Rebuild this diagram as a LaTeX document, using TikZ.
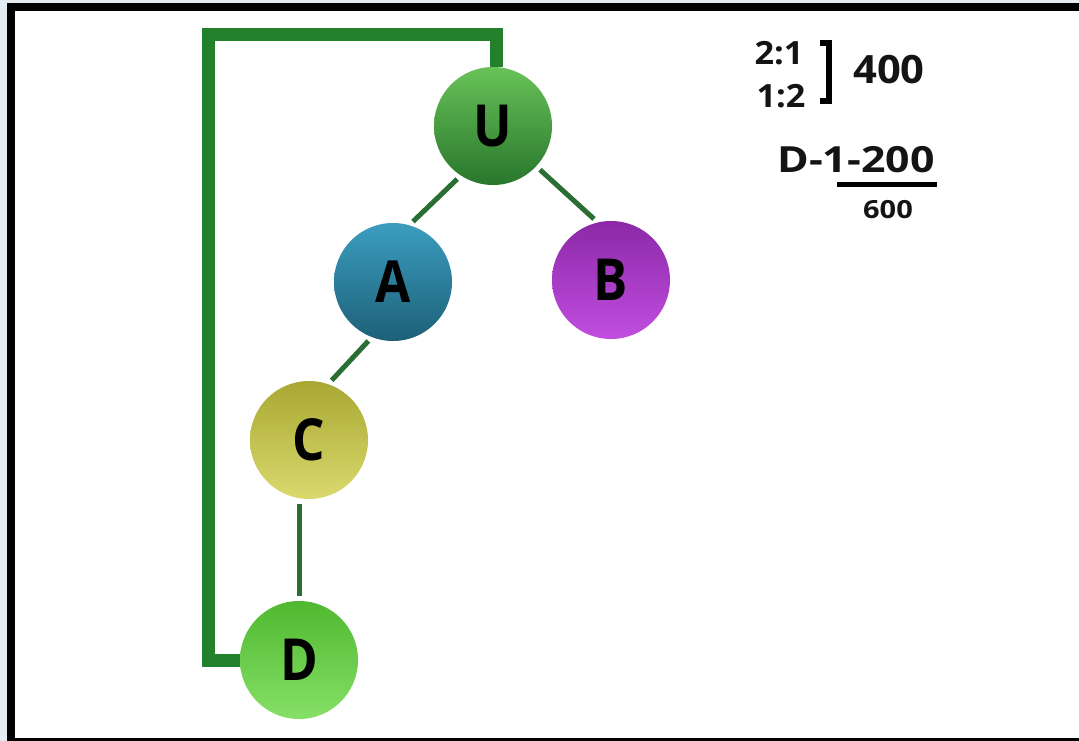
\documentclass[tikz,border=0pt]{standalone}
\usepackage{fontspec}
\setmainfont{Open Sans}
\usetikzlibrary{calc}
\definecolor{edgegreen}{HTML}{2B6E33}
\definecolor{loopgreen}{HTML}{23802B}
\definecolor{bgout}{HTML}{E4EBF1}
\tikzset{
  ball/.style={circle, minimum size=118pt, inner sep=0pt, shade, shading angle=0,
    font=\fontsize{58}{60}\selectfont\bfseries, text=black!92},
  lbl/.style={inner sep=0pt, xscale=0.88},
  edge/.style={draw=edgegreen, line width=5pt, shorten <=5pt, shorten >=5pt},
  loopline/.style={draw=loopgreen, line width=13pt, line join=miter},
  note/.style={inner sep=0pt, text=black!92}
}
\begin{document}
\begin{tikzpicture}[x=1pt,y=-1pt]
\useasboundingbox (0,0) rectangle (1079,741);
\fill[bgout] (0,0) rectangle (1079,741);
\fill[black] (7,3) rectangle (1079,741);
\fill[white] (15,11) rectangle (1079,738);
% nodes
\node[ball, top color={rgb,255:red,104;green,194;blue,88}, bottom color={rgb,255:red,40;green,118;blue,44}] (U) at (493,126) {};
\node[ball, top color={rgb,255:red,59;green,157;blue,191}, bottom color={rgb,255:red,29;green,96;blue,120}] (A) at (393,282) {};
\node[ball, top color={rgb,255:red,140;green,40;blue,168}, bottom color={rgb,255:red,192;green,78;blue,224}] (B) at (611,280) {};
\node[ball, top color={rgb,255:red,169;green,168;blue,51}, bottom color={rgb,255:red,217;green,217;blue,110}] (C) at (309,440) {};
\node[ball, top color={rgb,255:red,79;green,184;blue,48}, bottom color={rgb,255:red,134;green,224;blue,102}] (D) at (299,660) {};
\node[lbl, font=\fontsize{58}{60}\selectfont\bfseries] (Ul) at (U) {U};
\node[lbl, font=\fontsize{58}{60}\selectfont\bfseries] (Al) at (A) {A};
\node[lbl, font=\fontsize{58}{60}\selectfont\bfseries] (Bl) at (B) {B};
\node[lbl, font=\fontsize{58}{60}\selectfont\bfseries] (Cl) at (C) {C};
\node[lbl, font=\fontsize{58}{60}\selectfont\bfseries] (Dl) at (D) {D};
% edges
\draw[edge] (U.237) -- (A.74);
\draw[edge] (U.317) -- (B.103);
\draw[edge] (A.249) -- (C.71);
\draw[edge] (C.south -| D.north) -- (D.north);
% loop connector
\draw[loopline] ([xshift=3pt]U.north) |- (208.5,34.5) |- (D.west);
% notes
\node[note, xscale=1.07, font=\fontsize{32}{34}\selectfont\bfseries] (r1) at (779,53) {2:1};
\node[note, xscale=1.07, font=\fontsize{32}{34}\selectfont\bfseries] (r2) at (781,96) {1:2};
\draw[line width=6pt, line join=miter] (820,43) -- (829,43) -- (829,101) -- (820,101);
\node[note, xscale=1.07, font=\fontsize{39}{42}\selectfont\bfseries] (n400) at (889,70) {400};
\node[note, xscale=1.19, font=\fontsize{36}{40}\selectfont\bfseries] (d1) at (856,160) {D-1-200};
\draw[line width=5pt] (837,184.5) -- (937,184.5);
\node[note, xscale=1.16, font=\fontsize{25}{28}\selectfont\bfseries] (n600) at (888,210) {600};
\end{tikzpicture}
\end{document}
